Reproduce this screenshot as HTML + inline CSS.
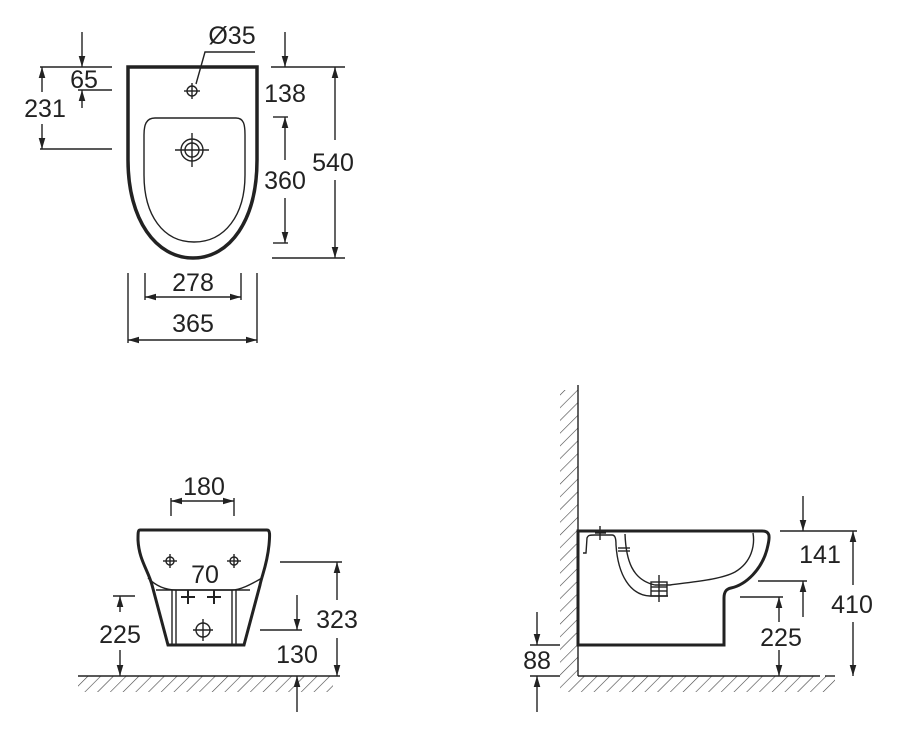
<!DOCTYPE html>
<html><head><meta charset="utf-8"><style>
html,body{margin:0;padding:0;background:#fff;}
svg{display:block;}
text{font-family:"Liberation Sans",Arial,sans-serif;font-size:25px;fill:#222;text-anchor:middle;}
</style></head><body>
<svg width="900" height="738" viewBox="0 0 900 738" xmlns="http://www.w3.org/2000/svg">
<defs>
<marker id="a" viewBox="0 0 10 10" refX="10" refY="5" markerWidth="11" markerHeight="11" markerUnits="userSpaceOnUse" orient="auto-start-reverse"><path d="M0,2 L10,5 L0,8 z" fill="#222"/></marker>
<pattern id="h" width="9" height="9" patternUnits="userSpaceOnUse" patternTransform="rotate(45)"><line x1="0" y1="0" x2="0" y2="9" stroke="#444" stroke-width="1.2"/></pattern>
</defs>
<g stroke="#222" fill="none" stroke-width="1.4">
<!-- TOP VIEW -->
<path d="M128,67 L257,67 L257,160 C257,220 230,258 193,258 C156,258 128,220 128,160 Z" stroke-width="3.5"/>
<path d="M155,118 L236,118 C244,118 245,125 245,135 L245,175 C245,215 225,242 194,242 C163,242 144,215 144,175 L144,135 C144,125 146,118 155,118 Z"/>
<circle cx="192" cy="91" r="5"/><line x1="184" y1="91" x2="200" y2="91"/><line x1="192" y1="83" x2="192" y2="99"/>
<circle cx="192" cy="150" r="11"/><circle cx="192" cy="150" r="7"/><line x1="175" y1="150" x2="209" y2="150"/><line x1="192" y1="133" x2="192" y2="167"/>
<path d="M255,52 L205,52 L196,84"/>
<line x1="82" y1="32" x2="82" y2="67" marker-end="url(#a)"/>
<line x1="40" y1="67" x2="112" y2="67"/>
<line x1="78" y1="90" x2="112" y2="90"/>
<line x1="82" y1="108" x2="82" y2="90" marker-end="url(#a)"/>
<line x1="42" y1="92" x2="42" y2="67" marker-end="url(#a)"/>
<line x1="42" y1="124" x2="42" y2="149" marker-end="url(#a)"/>
<line x1="40" y1="149" x2="112" y2="149"/>
<line x1="285" y1="32" x2="285" y2="67" marker-end="url(#a)"/>
<line x1="271" y1="67" x2="345" y2="67"/>
<line x1="273" y1="117" x2="288" y2="117"/>
<line x1="285" y1="160" x2="285" y2="117" marker-end="url(#a)"/>
<line x1="285" y1="198" x2="285" y2="243" marker-end="url(#a)"/>
<line x1="273" y1="243" x2="288" y2="243"/>
<line x1="335" y1="140" x2="335" y2="67" marker-end="url(#a)"/>
<line x1="335" y1="180" x2="335" y2="258" marker-end="url(#a)"/>
<line x1="272" y1="258" x2="345" y2="258"/>
<line x1="145" y1="273" x2="145" y2="300"/><line x1="241" y1="273" x2="241" y2="300"/>
<line x1="145" y1="297" x2="241" y2="297" marker-start="url(#a)" marker-end="url(#a)"/>
<line x1="128" y1="273" x2="128" y2="343"/><line x1="257" y1="273" x2="257" y2="343"/>
<line x1="128" y1="340" x2="257" y2="340" marker-start="url(#a)" marker-end="url(#a)"/>

<!-- FRONT VIEW -->
<path d="M140,530 L267,530 C270,530 270,534 269,545 C267,565 262,575 260,585 L244,645 L168,645 L152,585 C148,570 139,560 138,540 C138,533 138,530 140,530 Z" stroke-width="3"/>
<path d="M148,578 C160,590 172,590 176,590 L232,590 C240,590 250,585 262,578"/>
<line x1="156" y1="590" x2="250" y2="590"/>
<line x1="172" y1="590" x2="172" y2="645"/><line x1="176" y1="590" x2="176" y2="645"/>
<line x1="232" y1="590" x2="232" y2="645"/><line x1="236" y1="590" x2="236" y2="645"/>
<circle cx="170" cy="561" r="4"/><line x1="163" y1="561" x2="177" y2="561"/><line x1="170" y1="554" x2="170" y2="568"/>
<circle cx="234" cy="561" r="4"/><line x1="227" y1="561" x2="241" y2="561"/><line x1="234" y1="554" x2="234" y2="568"/>
<g stroke-width="2"><line x1="181" y1="597" x2="195" y2="597"/><line x1="188" y1="590" x2="188" y2="604"/><line x1="207" y1="597" x2="221" y2="597"/><line x1="214" y1="590" x2="214" y2="604"/></g>
<circle cx="203" cy="630" r="7"/><line x1="193" y1="630" x2="213" y2="630"/><line x1="203" y1="619" x2="203" y2="641"/>
<line x1="171" y1="498" x2="171" y2="516"/><line x1="234" y1="498" x2="234" y2="516"/>
<line x1="171" y1="501" x2="234" y2="501" marker-start="url(#a)" marker-end="url(#a)"/>
<line x1="113" y1="596" x2="135" y2="596"/>
<line x1="120" y1="612" x2="120" y2="596" marker-end="url(#a)"/>
<line x1="120" y1="650" x2="120" y2="676" marker-end="url(#a)"/>
<rect x="78" y="676" width="255" height="16" fill="url(#h)" stroke="none"/>
<line x1="78" y1="676" x2="340" y2="676"/>
<line x1="280" y1="562" x2="342" y2="562"/>
<line x1="337" y1="600" x2="337" y2="562" marker-end="url(#a)"/>
<line x1="337" y1="638" x2="337" y2="676" marker-end="url(#a)"/>
<line x1="260" y1="630" x2="302" y2="630"/>
<line x1="297" y1="595" x2="297" y2="630" marker-end="url(#a)"/>
<line x1="297" y1="712" x2="297" y2="676" marker-end="url(#a)"/>

<!-- SIDE VIEW -->
<rect x="560" y="390" width="18" height="286" fill="url(#h)" stroke="none"/>
<rect x="560" y="676" width="275" height="16" fill="url(#h)" stroke="none"/>
<line x1="578" y1="385" x2="578" y2="676"/>
<line x1="578" y1="676" x2="820" y2="676"/>
<line x1="825" y1="676" x2="835" y2="676"/>
<path d="M578,531 L762,531 C770,531 770,536 768,545 C763,570 745,585 731,588 C726,589 724,592 724,598 L724,645 L578,645 Z" stroke-width="3"/>
<path d="M583,553 L586,553 L587,538 C588,535 590,535 595,535 L612,535 C615,535 616,538 616,545 C618,575 630,595 650,596 L668,596"/>
<path d="M625,534 C626,560 632,580 655,585 L670,585 C690,582 720,580 735,572 C752,562 755,545 753,533"/>
<rect x="651" y="582" width="16" height="14"/>
<line x1="659" y1="575" x2="659" y2="602"/><line x1="651" y1="587" x2="667" y2="587"/><line x1="651" y1="591" x2="667" y2="591"/>
<line x1="600" y1="526" x2="600" y2="540"/><line x1="595" y1="533" x2="606" y2="533"/>
<line x1="618" y1="548" x2="630" y2="548"/><line x1="618" y1="551" x2="630" y2="551"/>
<line x1="803" y1="496" x2="803" y2="531" marker-end="url(#a)"/>
<line x1="780" y1="531" x2="857" y2="531"/>
<line x1="758" y1="581" x2="807" y2="581"/>
<line x1="803" y1="617" x2="803" y2="581" marker-end="url(#a)"/>
<line x1="853" y1="585" x2="853" y2="531" marker-end="url(#a)"/>
<line x1="853" y1="622" x2="853" y2="676" marker-end="url(#a)"/>
<line x1="740" y1="597" x2="783" y2="597"/>
<line x1="779" y1="622" x2="779" y2="597" marker-end="url(#a)"/>
<line x1="779" y1="650" x2="779" y2="676" marker-end="url(#a)"/>
<line x1="530" y1="645" x2="560" y2="645"/>
<line x1="537" y1="612" x2="537" y2="645" marker-end="url(#a)"/>
<line x1="530" y1="676" x2="560" y2="676"/>
<line x1="537" y1="712" x2="537" y2="676" marker-end="url(#a)"/>
</g>
<text x="232" y="44">Ø35</text>
<text x="84" y="88">65</text>
<text x="45" y="117">231</text>
<text x="285" y="102">138</text>
<text x="285" y="189">360</text>
<text x="333" y="171">540</text>
<text x="193" y="291">278</text>
<text x="193" y="332">365</text>
<text x="204" y="495">180</text>
<text x="205" y="583">70</text>
<text x="120" y="643">225</text>
<text x="337" y="628">323</text>
<text x="297" y="663">130</text>
<text x="820" y="563">141</text>
<text x="852" y="613">410</text>
<text x="781" y="646">225</text>
<text x="537" y="669">88</text>
</svg>
</body></html>
